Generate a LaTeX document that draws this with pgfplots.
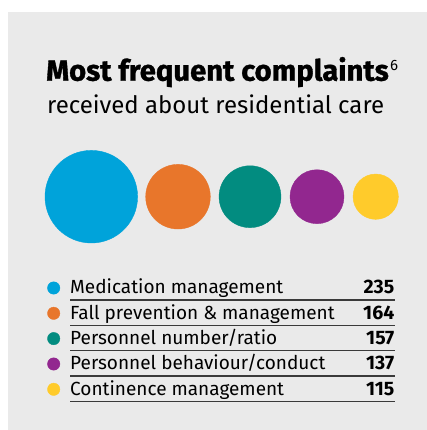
\documentclass[border=0pt]{standalone}
\usepackage{pgfplots}
\pgfplotsset{compat=1.18}
\usepackage{pgfplotstable}
\usepackage{fontspec}
\setmainfont{Fira Sans}
\newfontfamily\titlefont[FakeBold=1.2]{Fira Sans}
\definecolor{bgc}{HTML}{EAEAEA}
\definecolor{rule}{HTML}{3A3A3A}
\definecolor{cblue}{HTML}{00A3DA}
\definecolor{corange}{HTML}{E8762B}
\definecolor{cteal}{HTML}{028C80}
\definecolor{cpurple}{HTML}{92278F}
\definecolor{cyellow}{HTML}{FFCB2B}
\tikzset{
  lab/.style={anchor=base west, inner sep=0pt, font=\fontsize{19}{21}\selectfont},
  num/.style={anchor=base east, inner sep=0pt, font=\fontsize{19.5}{21}\selectfont\bfseries},
  rl/.style={rule, line width=1.1pt},
}
\pgfplotsset{
  compcls/.style={scatter/classes={
    a={mark=*,draw=cblue,fill=cblue},
    b={mark=*,draw=corange,fill=corange},
    c={mark=*,draw=cteal,fill=cteal},
    d={mark=*,draw=cpurple,fill=cpurple},
    e={mark=*,draw=cyellow,fill=cyellow}}},
}

% circle centre x, value, colour class, legend row y
\pgfplotstableread{
x v c ry
91.3 235 a 142.0
178.0 164 b 116.7
250.0 157 c 91.4
317.0 137 d 66.0
375.7 115 e 40.7
}\data

\begin{document}
\begin{tikzpicture}
\begin{axis}[
  width=427pt, height=430pt, scale only axis,
  xmin=0, xmax=427, ymin=0, ymax=430,
  hide axis, clip=false,
]
\fill[white] (axis cs:0,0) rectangle (axis cs:427,430);
\fill[bgc] (axis cs:8,0) rectangle (axis cs:427,418);

% big circles, radius proportional to value
\addplot[scatter, only marks, mark=*,
  point meta=explicit symbolic, compcls,
  visualization depends on={\thisrow{v}*0.197 \as \rad},
  scatter/@pre marker code/.append style={/tikz/mark size=\rad pt},
] table[x=x, y expr=233.3, meta=c] {\data};

% legend bullets
\addplot[scatter, only marks, mark=*, mark size=6.2pt,
  point meta=explicit symbolic, compcls,
] table[x expr=53.7, y=ry, meta=c] {\data};

% rules
\draw[rl] (axis cs:70,130.0) -- (axis cs:395,130.0);
\draw[rl] (axis cs:70,104.7) -- (axis cs:395,104.7);
\draw[rl] (axis cs:70,79.4) -- (axis cs:395,79.4);
\draw[rl] (axis cs:70,54.0) -- (axis cs:395,54.0);
\draw[rl] (axis cs:70,28.7) -- (axis cs:395,28.7);

% titles
\node[anchor=base west, inner sep=0pt, font=\fontsize{29.2}{30}\selectfont\titlefont\bfseries] at (axis cs:46,349.3) {Most frequent complaints};
\node[anchor=base west, inner sep=0pt, font=\fontsize{15}{16}\selectfont] at (axis cs:390,359.5) {6};
\node[anchor=base west, inner sep=0pt, font=\fontsize{24}{28}\selectfont] at (axis cs:47,316.7) {received about residential care};

% legend labels
\node[lab] at (axis cs:70,136.0) {Medication management};
\node[lab] at (axis cs:70,110.7) {Fall prevention \& management};
\node[lab] at (axis cs:70,85.4) {Personnel number/ratio};
\node[lab] at (axis cs:70,60.0) {Personnel behaviour/conduct};
\node[lab] at (axis cs:70,34.7) {Continence management};
\node[num] at (axis cs:394.5,136.0) {235};
\node[num] at (axis cs:394.5,110.7) {164};
\node[num] at (axis cs:394.5,85.4) {157};
\node[num] at (axis cs:394.5,60.0) {137};
\node[num] at (axis cs:394.5,34.7) {115};
\end{axis}
\end{tikzpicture}
\end{document}
